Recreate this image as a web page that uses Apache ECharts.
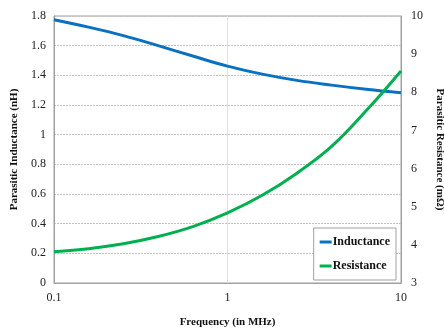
<!DOCTYPE html>
<html>
<head>
<meta charset="utf-8">
<script src="https://cdn.jsdelivr.net/npm/echarts@6/dist/echarts.min.js"></script>
<style>
  html, body { margin: 0; padding: 0; background: #fff; }
  #chart { width: 444px; height: 328px; }
</style>
</head>
<body>
<div id="chart"></div>
<script>
// Frequency sweep (MHz), five points per decade
const frequency = [0.1, 0.158, 0.251, 0.398, 0.631, 1, 1.585, 2.512, 3.981, 6.31, 10];
// Parasitic inductance (nH), left axis
const inductance = [1.775, 1.725, 1.668, 1.600, 1.530, 1.462, 1.408, 1.366, 1.334, 1.306, 1.282];
// Parasitic resistance (mΩ), right axis
const resistance = [3.82, 3.90, 4.03, 4.22, 4.48, 4.84, 5.30, 5.88, 6.58, 7.52, 8.56];

const serif = '"Liberation Serif", "DejaVu Serif", serif';
const tickText = { fontFamily: serif, fontSize: 12, color: '#222' };
const titleText = { fontFamily: serif, fontSize: 11, fontWeight: 'bold', color: '#111' };

const chart = echarts.init(document.getElementById('chart'), null, { renderer: 'canvas' });
chart.setOption({
  animation: false,
  backgroundColor: '#fff',
  grid: {
    left: 54, right: 43, top: 16, bottom: 45,
    outerBoundsMode: 'none',
    show: true, borderColor: '#a0a0a0', borderWidth: 1
  },
  legend: {
    orient: 'vertical',
    right: 48, top: 228,
    backgroundColor: '#fff',
    borderColor: '#a0a0a0', borderWidth: 1,
    padding: [8, 6, 8, 6],
    itemGap: 12,
    itemWidth: 12, itemHeight: 3,
    icon: 'rect',
    textStyle: { fontFamily: serif, fontSize: 12, fontWeight: 'bold', color: '#111', padding: [0, 0, 0, -4] },
    data: ['Inductance', 'Resistance']
  },
  xAxis: {
    type: 'log', logBase: 10, min: 0.1, max: 10,
    name: 'Frequency (in MHz)', nameLocation: 'middle', nameGap: 34,
    nameTextStyle: titleText,
    axisLine: { lineStyle: { color: '#a0a0a0' } },
    axisTick: { show: false },
    axisLabel: Object.assign({ margin: 9, formatter: v => String(v) }, tickText),
    splitLine: { show: true, lineStyle: { color: '#e2e2e2', width: 1 } },
    minorTick: { show: false }
  },
  yAxis: [
    {
      type: 'value', min: 0, max: 1.8, interval: 0.2,
      name: 'Parasitic Inductance (nH)', nameLocation: 'middle', nameGap: 32, nameRotate: 90,
      nameTextStyle: titleText,
      axisLine: { show: true, lineStyle: { color: '#a0a0a0' } },
      axisTick: { show: false },
      axisLabel: Object.assign({ margin: 8, formatter: v => String(+v.toFixed(1)) }, tickText),
      splitLine: { show: true, lineStyle: { color: '#c4c4c4', type: [2, 1], width: 1 } }
    },
    {
      type: 'value', min: 3, max: 10, interval: 1,
      name: 'Parasitic Resistance (mΩ)', nameLocation: 'middle', nameGap: 26, nameRotate: -90,
      nameTextStyle: titleText,
      axisLine: { show: true, lineStyle: { color: '#a0a0a0' } },
      axisTick: { show: false },
      axisLabel: Object.assign({ margin: 10 }, tickText),
      splitLine: { show: false }
    }
  ],
  series: [
    {
      name: 'Inductance', type: 'line', yAxisIndex: 0,
      data: frequency.map((f, i) => [f, inductance[i]]),
      smooth: 0.4, showSymbol: false,
      lineStyle: { color: '#0a70c0', width: 3 },
      itemStyle: { color: '#0a70c0' }
    },
    {
      name: 'Resistance', type: 'line', yAxisIndex: 1,
      data: frequency.map((f, i) => [f, resistance[i]]),
      smooth: 0.4, showSymbol: false,
      lineStyle: { color: '#00b050', width: 3 },
      itemStyle: { color: '#00b050' }
    }
  ]
});
</script>
</body>
</html>
